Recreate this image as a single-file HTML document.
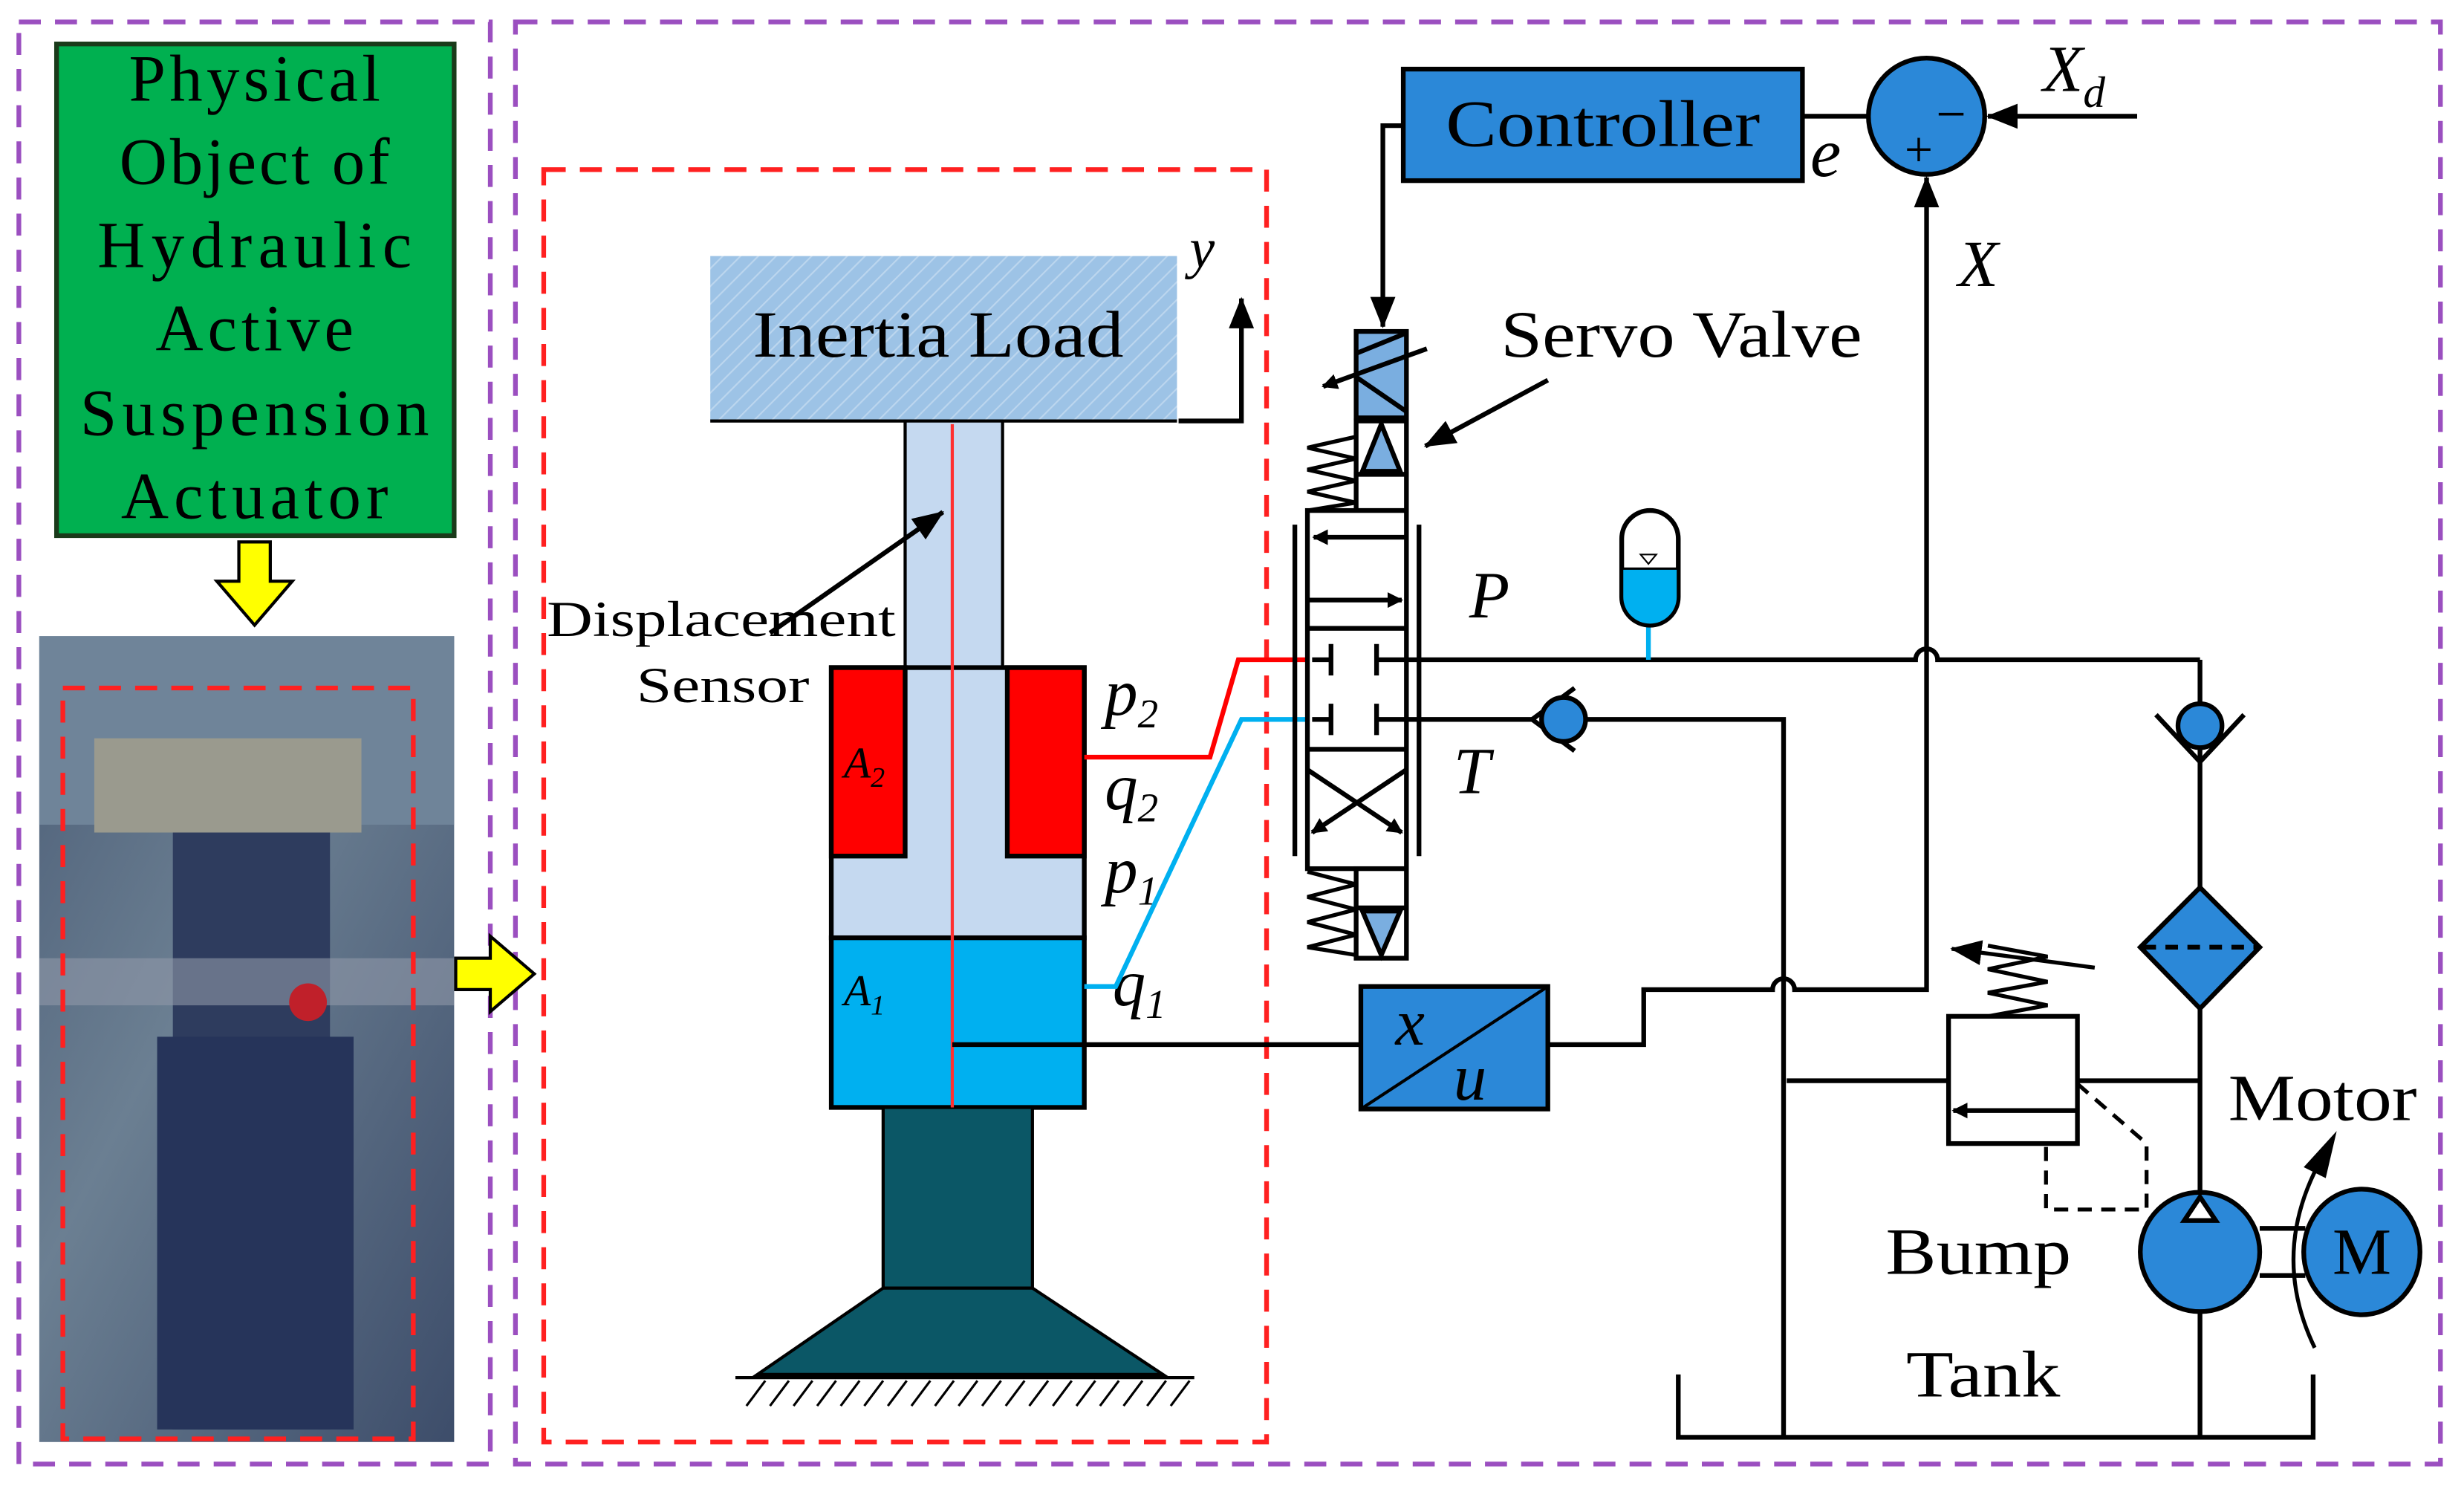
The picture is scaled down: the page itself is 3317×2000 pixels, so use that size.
<!DOCTYPE html>
<html><head><meta charset="utf-8"><style>
html,body{margin:0;padding:0;background:#fff;width:3317px;height:2000px;overflow:hidden}
svg{display:block}
text{font-family:"Liberation Serif",serif;fill:#000}
.i{font-style:italic}
</style></head><body>
<svg width="3317" height="2000" viewBox="0 0 1568 946" preserveAspectRatio="none" xmlns="http://www.w3.org/2000/svg">
<defs>
<pattern id="h" width="8" height="8" patternUnits="userSpaceOnUse" patternTransform="rotate(45)">
<rect width="8" height="8" fill="#9dc3e6"/><line x1="0" y1="0" x2="0" y2="8" stroke="#bcd6ee" stroke-width="2"/></pattern>
<marker id="a" markerWidth="10" markerHeight="10" refX="9" refY="5" orient="auto" markerUnits="userSpaceOnUse"><path d="M0,0 L10,5 L0,10 Z" fill="#000"/></marker>
<marker id="b" markerWidth="20" markerHeight="16" refX="19" refY="8" orient="auto" markerUnits="userSpaceOnUse"><path d="M0,0 L20,8 L0,16 Z" fill="#000"/></marker>
<linearGradient id="ph" x1="0" y1="0" x2="1" y2="1"><stop offset="0" stop-color="#4d5f78"/><stop offset="0.4" stop-color="#6b7f92"/><stop offset="1" stop-color="#3d4d6a"/></linearGradient>
</defs>
<g fill="none" stroke="#9b4fc0" stroke-width="3" stroke-dasharray="14,9">
<rect x="12" y="14" width="300" height="918"/>
<rect x="328" y="14" width="1225" height="918"/>
</g>
<rect x="36" y="28" width="253" height="313" fill="#00b050" stroke="#1a3a1a" stroke-width="3"/>
<g font-size="42" text-anchor="middle" lengthAdjust="spacingAndGlyphs">
<text x="162" y="64" textLength="160">Physical</text><text x="162" y="117" textLength="172">Object of</text><text x="162" y="170" textLength="200">Hydraulic</text>
<text x="162" y="223" textLength="126">Active</text><text x="162" y="277" textLength="222">Suspension</text><text x="162" y="330" textLength="170">Actuator</text></g>
<path d="M152,345 h20 v25 h14 l-24,28 l-24,-28 h14 z" fill="#ffff00" stroke="#000" stroke-width="2"/>
<rect x="25" y="405" width="264" height="513" fill="url(#ph)"/>
<rect x="25" y="405" width="264" height="120" fill="#6f8499"/>
<rect x="60" y="470" width="170" height="60" fill="#9a9a8e"/>
<rect x="110" y="530" width="100" height="380" fill="#2e3c5e"/>
<rect x="100" y="660" width="125" height="250" fill="#26345a"/>
<rect x="25" y="610" width="264" height="30" fill="#8f98a8" opacity="0.6"/>
<circle cx="196" cy="638" r="12" fill="#c0202a"/>
<rect x="40" y="438" width="223" height="478" fill="none" stroke="#ff2020" stroke-width="3" stroke-dasharray="14,9"/>
<path d="M290,610 h22 v-14 l28,24 l-28,24 v-14 h-22 z" fill="#ffff00" stroke="#000" stroke-width="2"/>
<rect x="346" y="108" width="460" height="810" fill="none" stroke="#ff2020" stroke-width="3" stroke-dasharray="14,9"/>
<rect x="452" y="163" width="297" height="105" fill="url(#h)"/>
<line x1="452" y1="268" x2="749" y2="268" stroke="#000" stroke-width="2"/>
<text x="597" y="227" font-size="42" text-anchor="middle" textLength="236" lengthAdjust="spacingAndGlyphs">Inertia Load</text>
<path d="M750,268 H790 V190" fill="none" stroke="#000" stroke-width="3" marker-end="url(#b)"/>
<text x="757" y="170" font-size="36" class="i">y</text>
<rect x="576" y="268" width="62" height="157" fill="#c5d9f0" stroke="#000" stroke-width="2"/>
<rect x="529" y="425" width="161" height="172" fill="#c5d9f0" stroke="#000" stroke-width="3"/>
<rect x="529" y="425" width="47" height="120" fill="#ff0000" stroke="#000" stroke-width="3"/>
<rect x="641" y="425" width="49" height="120" fill="#ff0000" stroke="#000" stroke-width="3"/>
<rect x="529" y="597" width="161" height="108" fill="#00b0f0" stroke="#000" stroke-width="3"/>
<rect x="562" y="705" width="95" height="115" fill="#0b5766" stroke="#000" stroke-width="2"/>
<path d="M562,820 H657 L740,875 H482 Z" fill="#0b5766" stroke="#000" stroke-width="2"/>
<line x1="468" y1="877" x2="760" y2="877" stroke="#000" stroke-width="2"/>
<g stroke="#000" stroke-width="1.5">
<path d="M475,895 l12,-16 M490,895 l12,-16 M505,895 l12,-16 M520,895 l12,-16 M535,895 l12,-16 M550,895 l12,-16 M565,895 l12,-16 M580,895 l12,-16 M595,895 l12,-16 M610,895 l12,-16 M625,895 l12,-16 M640,895 l12,-16 M655,895 l12,-16 M670,895 l12,-16 M685,895 l12,-16 M700,895 l12,-16 M715,895 l12,-16 M730,895 l12,-16 M745,895 l12,-16"/></g>
<line x1="606" y1="270" x2="606" y2="705" stroke="#ff3030" stroke-width="2"/>
<path d="M606,665 H866" fill="none" stroke="#000" stroke-width="3"/>
<text x="537" y="495" font-size="28" class="i">A<tspan font-size="18" dy="6">2</tspan></text>
<text x="537" y="640" font-size="28" class="i">A<tspan font-size="18" dy="6">1</tspan></text>
<text x="348" y="405" font-size="32" textLength="222" lengthAdjust="spacingAndGlyphs">Displacement</text>
<text x="405" y="447" font-size="32" textLength="110" lengthAdjust="spacingAndGlyphs">Sensor</text>
<line x1="490" y1="403" x2="600" y2="326" stroke="#000" stroke-width="3" marker-end="url(#b)"/>
<g font-size="42" class="i">
<text x="703" y="455">p<tspan font-size="26" dy="8">2</tspan></text>
<text x="703" y="515">q<tspan font-size="26" dy="8">2</tspan></text>
<text x="703" y="568">p<tspan font-size="26" dy="8">1</tspan></text>
<text x="708" y="640">q<tspan font-size="26" dy="8">1</tspan></text></g>
<path d="M690,482 H770 L788,420 H835" fill="none" stroke="#ff0000" stroke-width="3"/>
<path d="M690,628 H710 L790,458 H835" fill="none" stroke="#00b0f0" stroke-width="3"/>
<rect x="893" y="44" width="254" height="71" fill="#2b88d8" stroke="#000" stroke-width="3"/>
<text x="1020" y="93" font-size="42" text-anchor="middle" textLength="200" lengthAdjust="spacingAndGlyphs">Controller</text>
<path d="M893,80 H880 V208" fill="none" stroke="#000" stroke-width="3" marker-end="url(#b)"/>
<line x1="1147" y1="74" x2="1189" y2="74" stroke="#000" stroke-width="3"/>
<text x="1152" y="112" font-size="44" class="i">e</text>
<circle cx="1226" cy="74" r="37" fill="#2b88d8" stroke="#000" stroke-width="3"/>
<text x="1232" y="84" font-size="34">−</text>
<text x="1212" y="106" font-size="32">+</text>
<line x1="1360" y1="74" x2="1265" y2="74" stroke="#000" stroke-width="3" marker-end="url(#b)"/>
<text x="1300" y="58" font-size="42" class="i">X<tspan font-size="28" dy="10">d</tspan></text>
<text x="1246" y="182" font-size="42" class="i">X</text>
<path d="M985,665 H1046 V630 H1128 a7,7 0 0 1 14,0 H1226 V113" fill="none" stroke="#000" stroke-width="3" marker-end="url(#b)"/>
<rect x="866" y="628" width="119" height="78" fill="#2b88d8" stroke="#000" stroke-width="3"/>
<line x1="866" y1="706" x2="985" y2="628" stroke="#000" stroke-width="2"/>
<text x="888" y="665" font-size="42" class="i">x</text>
<text x="925" y="700" font-size="42" class="i">u</text>
<text x="955" y="227" font-size="42" textLength="230" lengthAdjust="spacingAndGlyphs">Servo Valve</text>
<line x1="985" y1="242" x2="907" y2="284" stroke="#000" stroke-width="3" marker-end="url(#b)"/>
<g stroke="#000" stroke-width="3">
<rect x="863" y="211" width="32" height="55" fill="#7aaee0"/>
<line x1="863" y1="225" x2="895" y2="212"/><line x1="863" y1="240" x2="895" y2="262"/>
<line x1="908" y1="222" x2="842" y2="246" marker-end="url(#a)"/>
<rect x="863" y="268" width="32" height="34" fill="#fff"/>
<path d="M879,270 L867,300 H891 Z" fill="#7aaee0"/>
<rect x="863" y="302" width="32" height="23" fill="#fff"/>
<rect x="832" y="325" width="63" height="228" fill="#fff"/>
<line x1="832" y1="400" x2="895" y2="400"/><line x1="832" y1="477" x2="895" y2="477"/>
<line x1="895" y1="342" x2="836" y2="342" marker-end="url(#a)"/>
<line x1="832" y1="382" x2="892" y2="382" marker-end="url(#a)"/>
<line x1="847" y1="410" x2="847" y2="430"/><line x1="876" y1="410" x2="876" y2="430"/>
<line x1="847" y1="448" x2="847" y2="468"/><line x1="876" y1="448" x2="876" y2="468"/>
<line x1="835" y1="420" x2="847" y2="420"/><line x1="835" y1="458" x2="847" y2="458"/>
<line x1="876" y1="420" x2="895" y2="420"/><line x1="876" y1="458" x2="895" y2="458"/>
<line x1="832" y1="490" x2="892" y2="530" marker-end="url(#a)"/>
<line x1="895" y1="490" x2="835" y2="530" marker-end="url(#a)"/>
<rect x="863" y="553" width="32" height="25" fill="#fff"/>
<rect x="863" y="578" width="32" height="32" fill="#fff"/>
<path d="M867,580 H891 L879,608 Z" fill="#7aaee0"/>
<line x1="824" y1="334" x2="824" y2="545"/><line x1="903" y1="334" x2="903" y2="545"/>
<polyline fill="none" points="863,278 832,285 863,292 832,299 863,306 832,313 863,320 832,325" stroke-width="2.5"/>
<polyline fill="none" points="832,555 863,563 832,571 863,579 832,587 863,595 832,603 863,608" stroke-width="2.5"/>
</g>
<text x="935" y="393" font-size="42" class="i">P</text>
<text x="925" y="505" font-size="42" class="i">T</text>
<path d="M895,420 H1219 a7,7 0 0 1 14,0 H1400" fill="none" stroke="#000" stroke-width="3"/>
<line x1="1049" y1="420" x2="1049" y2="395" stroke="#00b0f0" stroke-width="3"/>
<path d="M1032,343 a18,18 0 0 1 36,0 V380 a18,18 0 0 1 -36,0 Z" fill="#fff" stroke="#000" stroke-width="3"/>
<path d="M1033,362 H1067 V380 a17,17 0 0 1 -34,0 Z" fill="#00b0f0"/>
<line x1="1032" y1="362" x2="1068" y2="362" stroke="#000" stroke-width="1.5"/>
<path d="M1044,353 h10 l-5,6 z" fill="none" stroke="#000" stroke-width="1"/>
<line x1="895" y1="458" x2="975" y2="458" stroke="#000" stroke-width="3"/>
<path d="M1002,438 L975,458 L1002,478" fill="none" stroke="#000" stroke-width="3"/>
<circle cx="995" cy="458" r="14" fill="#2b88d8" stroke="#000" stroke-width="3"/>
<path d="M1009,458 H1135 V915" fill="none" stroke="#000" stroke-width="3"/>
<path d="M1400,420 V448" fill="none" stroke="#000" stroke-width="3"/>
<path d="M1372,455 L1400,485 L1428,455" fill="none" stroke="#000" stroke-width="3"/>
<circle cx="1400" cy="462" r="14" fill="#2b88d8" stroke="#000" stroke-width="3"/>
<line x1="1400" y1="476" x2="1400" y2="565" stroke="#000" stroke-width="3"/>
<path d="M1400,565 L1438,603 L1400,642 L1362,603 Z" fill="#2b88d8" stroke="#000" stroke-width="3"/>
<line x1="1364" y1="603" x2="1436" y2="603" stroke="#000" stroke-width="3" stroke-dasharray="8,6"/>
<line x1="1400" y1="642" x2="1400" y2="760" stroke="#000" stroke-width="3"/>
<circle cx="1400" cy="797" r="38" fill="#2b88d8" stroke="#000" stroke-width="3"/>
<path d="M1400,762 L1390,777 H1410 Z" fill="#fff" stroke="#000" stroke-width="3"/>
<line x1="1400" y1="835" x2="1400" y2="915" stroke="#000" stroke-width="3"/>
<line x1="1438" y1="782" x2="1467" y2="782" stroke="#000" stroke-width="3"/>
<line x1="1438" y1="812" x2="1467" y2="812" stroke="#000" stroke-width="3"/>
<ellipse cx="1503" cy="797" rx="37" ry="40" fill="#2b88d8" stroke="#000" stroke-width="3"/>
<text x="1503" y="811" font-size="42" text-anchor="middle">M</text>
<path d="M1473,858 Q1445,800 1475,742" fill="none" stroke="#000" stroke-width="2.5"/>
<path d="M1466,743 L1487,720 L1480,750 Z" fill="#000"/>
<path d="M1068,875 V915 H1472 V875" fill="none" stroke="#000" stroke-width="3"/>
<line x1="1137" y1="688" x2="1240" y2="688" stroke="#000" stroke-width="3"/>
<line x1="1322" y1="688" x2="1400" y2="688" stroke="#000" stroke-width="3"/>
<rect x="1240" y="647" width="82" height="81" fill="#fff" stroke="#000" stroke-width="3"/>
<line x1="1322" y1="707" x2="1243" y2="707" stroke="#000" stroke-width="3" marker-end="url(#a)"/>
<polyline points="1265,647 1303,640 1265,632 1303,625 1265,617 1303,609 1265,602" fill="none" stroke="#000" stroke-width="2.5"/>
<line x1="1333" y1="616" x2="1242" y2="604" stroke="#000" stroke-width="2.5" marker-end="url(#b)"/>
<path d="M1322,690 L1366,728 V770 H1302 V728" fill="none" stroke="#000" stroke-width="2.5" stroke-dasharray="9,6"/>
<text x="1200" y="811" font-size="42" textLength="118" lengthAdjust="spacingAndGlyphs">Bump</text>
<text x="1213" y="889" font-size="42" textLength="98" lengthAdjust="spacingAndGlyphs">Tank</text>
<text x="1418" y="713" font-size="42" textLength="120" lengthAdjust="spacingAndGlyphs">Motor</text>
</svg>
</body></html>
